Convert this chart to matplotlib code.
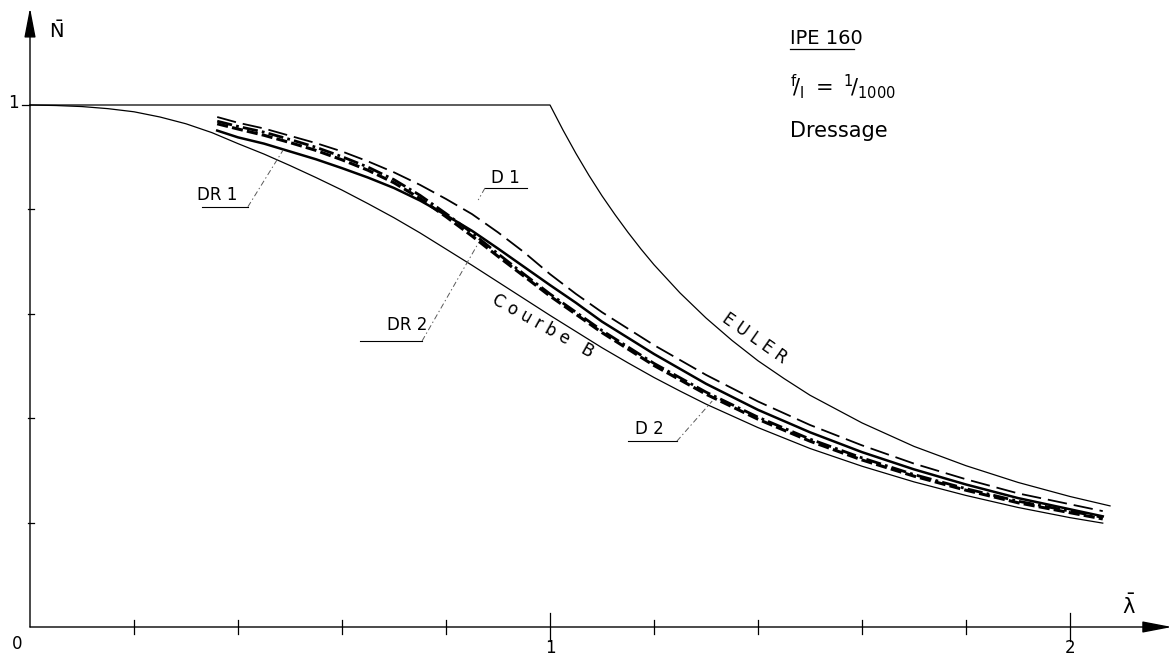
import matplotlib
matplotlib.use("Agg")
import matplotlib.pyplot as plt

plt.rcParams['font.family'] = ['DejaVu Sans']
plt.rcParams['mathtext.fontset'] = 'dejavusans'
plt.rcParams['mathtext.default'] = 'regular'
plt.rcParams['lines.scale_dashes'] = False

# Euler curve
lam_euler = [0, 1.0, 1.025, 1.05, 1.075, 1.1, 1.125, 1.15, 1.175, 1.2, 1.25, 1.3, 1.35, 1.4, 1.45,
             1.5, 1.6, 1.7, 1.8, 1.9, 2.0, 2.077]
n_euler = [1, 1, 0.952, 0.907, 0.865, 0.826, 0.790, 0.756, 0.724, 0.694, 0.640, 0.592, 0.549,
           0.510, 0.476, 0.444, 0.391, 0.346, 0.309, 0.277, 0.250, 0.232]

# Courbe B
lam_b = [0, 0.05, 0.1, 0.15, 0.2, 0.25, 0.3, 0.35, 0.4, 0.45, 0.5, 0.55, 0.6, 0.65, 0.7, 0.75,
         0.8, 0.85, 0.9, 0.95, 1.0, 1.05, 1.1, 1.15, 1.2, 1.25, 1.3, 1.4, 1.5, 1.6, 1.7, 1.8, 1.9,
         2.0, 2.063]
n_b = [1.0, 0.999, 0.997, 0.993, 0.987, 0.977, 0.964, 0.947, 0.926, 0.906, 0.884, 0.861, 0.837,
       0.811, 0.784, 0.755, 0.724, 0.693, 0.661, 0.629, 0.597, 0.566, 0.535, 0.506, 0.478, 0.452,
       0.427, 0.382, 0.342, 0.308, 0.278, 0.252, 0.229, 0.2095, 0.199]

# test curves
lam_test = [0.36, 0.4, 0.45, 0.5, 0.55, 0.6, 0.65, 0.7, 0.75, 0.8, 0.85, 0.9, 0.95, 1.0, 1.05,
            1.1, 1.2, 1.3, 1.4, 1.5, 1.6, 1.7, 1.8, 1.9, 2.063]
n_d1 = [0.977, 0.966, 0.955, 0.941, 0.927, 0.911, 0.892, 0.871, 0.847, 0.820, 0.791, 0.756, 0.718,
        0.676, 0.638, 0.603, 0.540, 0.483, 0.432, 0.387, 0.348, 0.313, 0.283, 0.256, 0.222]
n_dr1 = [0.951, 0.938, 0.926, 0.911, 0.896, 0.879, 0.861, 0.841, 0.817, 0.789, 0.759, 0.725, 0.690,
         0.655, 0.621, 0.585, 0.523, 0.466, 0.416, 0.373, 0.335, 0.302, 0.273, 0.247, 0.212]
n_d2 = [0.969, 0.959, 0.948, 0.934, 0.919, 0.901, 0.881, 0.857, 0.827, 0.792, 0.755, 0.715, 0.676,
        0.638, 0.603, 0.568, 0.505, 0.450, 0.402, 0.360, 0.324, 0.292, 0.265, 0.241, 0.210]
n_dr2 = [0.964, 0.954, 0.942, 0.928, 0.913, 0.895, 0.875, 0.851, 0.821, 0.786, 0.749, 0.710, 0.672,
         0.634, 0.599, 0.564, 0.501, 0.446, 0.398, 0.356, 0.320, 0.289, 0.262, 0.238, 0.207]

x_ticks = [0.2, 0.4, 0.6, 0.8, 1.0, 1.2, 1.4, 1.6, 1.8, 2.0]
y_ticks = [0.2, 0.4, 0.6, 0.8]

fig = plt.figure(figsize=(11.75, 6.59), dpi=100)
ax = fig.add_axes([0, 0, 1, 1])
ax.set_xlim(-30 / 520, 1145 / 520)
ax.set_ylim(-32 / 522, 627 / 522)
ax.axis('off')

# axes with arrows
arrow = dict(arrowstyle='-|>,head_length=1.3,head_width=0.25', lw=1.0, color='k',
             mutation_scale=14, shrinkA=0, shrinkB=0)
ax.annotate('', xy=(2.196, 0), xytext=(0, 0), arrowprops=arrow)
ax.annotate('', xy=(0, 1.186), xytext=(0, 0), arrowprops=arrow)
for t in x_ticks:
    h = 0.026 if t in (1.0, 2.0) else 0.014
    ax.plot([t, t], [-h, h], color='k', lw=0.9)
for t in y_ticks:
    ax.plot([-0.004, 0.008], [t, t], color='k', lw=0.9)
ax.plot([-0.015, 0], [1, 1], color='k', lw=0.9)

ax.text(-0.031, 1.004, '1', fontsize=12, ha='center', va='center')
ax.text(-0.025, -0.032, '0', fontsize=12, ha='center', va='center')
ax.text(1.0, -0.040, '1', fontsize=12, ha='center', va='center')
ax.text(2.0, -0.040, '2', fontsize=12, ha='center', va='center')
ax.text(0.05, 1.142, r'$\bar{\mathrm{N}}$', fontsize=14, ha='center', va='center')
ax.text(2.113, 0.04, r'$\bar{\lambda}$', fontsize=15, ha='center', va='center')

# curves
ax.plot(lam_euler, n_euler, color='k', lw=0.9)
ax.plot(lam_b, n_b, color='k', lw=0.9)
ax.plot(lam_test, n_d1, color='k', lw=1.3, linestyle=(0, (14, 5)))
ax.plot(lam_test, n_dr1, color='k', lw=1.8)
ax.plot(lam_test, n_d2, color='k', lw=2.0, linestyle=(0, (11, 3, 2, 3)))
ax.plot(lam_test, n_dr2, color='k', lw=2.2, linestyle=(0, (8, 3)))

# labels with leaders
lead = dict(color='0.35', lw=0.7, linestyle=(0, (4, 2, 1, 2)))
ax.text(0.36, 0.828, 'DR 1', fontsize=12, ha='center', va='center')
ax.plot([0.33, 0.419], [0.805, 0.805], color='k', lw=0.8)
ax.plot([0.419, 0.487], [0.805, 0.914], **lead)

ax.text(0.915, 0.860, 'D 1', fontsize=12, ha='center', va='center')
ax.plot([0.875, 0.956], [0.841, 0.841], color='k', lw=0.8)
ax.plot([0.875, 0.862], [0.841, 0.818], **lead)

ax.text(0.725, 0.579, 'DR 2', fontsize=12, ha='center', va='center')
ax.plot([0.635, 0.754], [0.548, 0.548], color='k', lw=0.8)
ax.plot([0.754, 0.862], [0.548, 0.735], **lead)

ax.text(1.192, 0.379, 'D 2', fontsize=12, ha='center', va='center')
ax.plot([1.150, 1.244], [0.356, 0.356], color='k', lw=0.8)
ax.plot([1.244, 1.312], [0.356, 0.433], **lead)

ax.text(0.987, 0.577, 'C o u r b e   B', fontsize=12, ha='center', va='center',
        rotation=-29, rotation_mode='anchor')
ax.text(1.394, 0.552, 'E U L E R', fontsize=12, ha='center', va='center',
        rotation=-35, rotation_mode='anchor')

# title block
ax.text(1.4615, 1.128, 'IPE 160', fontsize=14, ha='left', va='center')
ax.plot([1.4615, 1.585], [1.108, 1.108], color='k', lw=0.9)
ax.text(1.4615, 1.035, r'${}^{f}\!/_{l}\ =\ {}^{1}\!/_{1000}$', fontsize=15, ha='left', va='center')
ax.text(1.4615, 0.950, 'Dressage', fontsize=15, ha='left', va='center')

fig.savefig('out.png', dpi=100, facecolor='white')
